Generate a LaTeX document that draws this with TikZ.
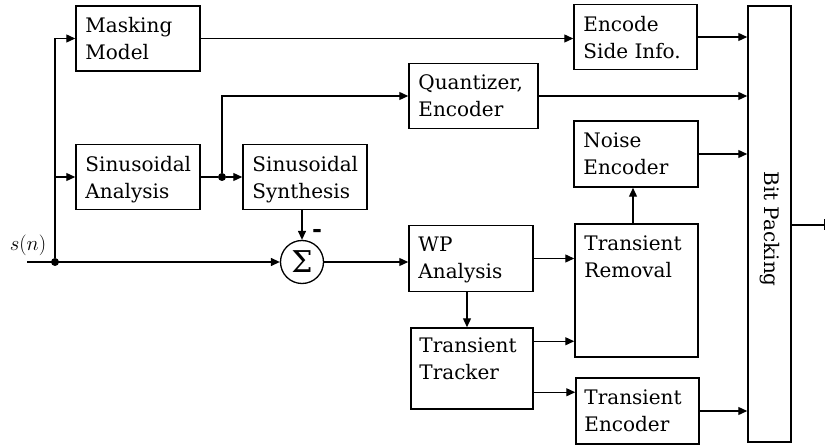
\documentclass[tikz,border=0pt]{standalone}
\usepackage{fontspec}
\setmainfont{DejaVu Serif}
\usetikzlibrary{arrows.meta,calc}
\begin{document}
\begin{tikzpicture}[x=1pt,y=-1pt,
  box/.style={draw, line width=1.5pt, inner sep=0pt},
  lbl/.style={anchor=north west, inner sep=0pt, align=left, font=\fontsize{20}{27}\selectfont},
  arr/.style={line width=1.3pt, -{Triangle[length=9pt,width=8pt]}},
  ln/.style={line width=1.3pt},
  jdot/.style={circle, fill, inner sep=0pt, minimum size=8pt}]
\useasboundingbox (0,0) rectangle (827,446);

% blocks
\node[box, minimum width=124pt, minimum height=65pt] (mask) at (138,38.5) {};
\node[box, minimum width=124pt, minimum height=65pt] (sinan) at (138,177) {};
\node[box, minimum width=124pt, minimum height=65pt] (sinsyn) at (305,177) {};
\node[box, minimum width=129pt, minimum height=65pt] (quant) at (473.5,96) {};
\node[box, minimum width=123pt, minimum height=65pt] (encside) at (635.5,37) {};
\node[box, minimum width=124pt, minimum height=66pt] (noise) at (636,154) {};
\node[box, minimum width=124pt, minimum height=66pt] (wp) at (471,258.5) {};
\node[box, minimum width=123pt, minimum height=133pt] (trem) at (636.5,290.5) {};
\node[box, minimum width=122pt, minimum height=81pt] (ttrack) at (472,368.5) {};
\node[box, minimum width=123pt, minimum height=66pt] (tenc) at (637.5,411) {};
\node[box, minimum width=43pt, minimum height=436pt] (bit) at (769.5,224) {};
\node[circle, draw, line width=1.3pt, minimum size=43pt, inner sep=0pt,
      font=\fontsize{30}{30}\selectfont] (sum) at (302,262) {Σ};

% labels
\node[lbl] (maskT) at ($(mask.north west)+(10,12)$) {Masking\\Model};
\node[lbl] (sinanT) at ($(sinan.north west)+(10,12)$) {Sinusoidal\\Analysis};
\node[lbl] (sinsynT) at ($(sinsyn.north west)+(10,12)$) {Sinusoidal\\Synthesis};
\node[lbl] (quantT) at ($(quant.north west)+(10,12)$) {Quantizer,\\Encoder};
\node[lbl] (encsideT) at ($(encside.north west)+(10,12)$) {Encode\\Side Info.};
\node[lbl] (noiseT) at ($(noise.north west)+(10,12)$) {Noise\\Encoder};
\node[lbl] (wpT) at ($(wp.north west)+(10,12)$) {WP\\Analysis};
\node[lbl] (tremT) at ($(trem.north west)+(10,12)$) {Transient\\Removal};
\node[lbl] (ttrackT) at ($(ttrack.north west)+(9,10)$) {Transient\\Tracker};
\node[lbl] (tencT) at ($(tenc.north west)+(9,12)$) {Transient\\Encoder};
\node[font=\fontsize{20}{27}\selectfont, rotate=-90] (bitT) at ($(bit.center)+(0,5)$) {Bit Packing};
\node[font=\fontsize{21}{24}\selectfont] (sn) at (28,245) {$s(n)$};
\node[font=\bfseries\fontsize{24}{24}\selectfont, inner sep=0pt] (minus) at (317,233) {-};

% junctions and free ends
\coordinate (in) at (27,262);
\node[jdot] (d1) at (55,262) {};
\node[jdot] (d2) at (222,177) {};
\coordinate (out) at (825,225);
\coordinate (t1) at ($(ttrack.north east)+(0,14)$);
\coordinate (t2) at ($(ttrack.north east)+(0,65)$);
\coordinate (v1) at ($(wp.south)+(-4,0)$);
\coordinate (v2) at ($(trem.north)+(-3.5,0)$);

% connectors
\draw[arr] (in) -- (sum.west);
\draw[arr] (d1) |- (mask.west);
\draw[arr] (d1) |- (sinan.west);
\draw[ln] (sinan.east) -- (d2);
\draw[arr] (d2) -- (sinsyn.west);
\draw[arr] (d2) |- (quant.west);
\draw[arr] (mask.east) -- (mask.east -| encside.west);
\draw[arr] (encside.east) -- (encside.east -| bit.west);
\draw[arr] (quant.east) -- (quant.east -| bit.west);
\draw[arr] (noise.east) -- (noise.east -| bit.west);
\draw[arr] (tenc.east) -- (tenc.east -| bit.west);
\draw[arr] (sinsyn.south -| sum.north) -- (sum.north);
\draw[arr] (sum.east) -- (sum.east -| wp.west);
\draw[arr] (wp.east) -- (wp.east -| trem.west);
\draw[arr] (v1) -- (v1 |- ttrack.north);
\draw[arr] (t1) -- (t1 -| trem.west);
\draw[arr] (t2) -- (t2 -| tenc.west);
\draw[arr] (v2) -- (v2 |- noise.south);
\draw[line width=1.3pt, -{Bar[width=11pt]}] (bit.east |- out) -- (out);
\end{tikzpicture}
\end{document}
